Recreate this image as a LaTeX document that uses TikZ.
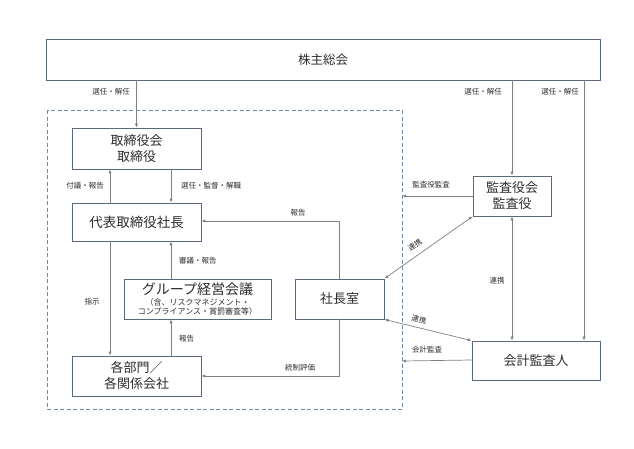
\documentclass[tikz,border=0pt]{standalone}
\usepackage{fontspec}
\setmainfont{Noto Sans CJK JP}
\usetikzlibrary{arrows.meta,calc}
\definecolor{boxc}{RGB}{92,104,128}
\definecolor{dashc}{RGB}{112,136,170}
\definecolor{linec}{RGB}{128,128,128}
\definecolor{txtc}{RGB}{45,45,45}
\tikzset{
  box/.style={draw=boxc,line width=0.8pt,fill=white,inner sep=0pt,align=center,text=txtc,
              font=\fontsize{13}{16}\selectfont},
  arr/.style={draw=linec,line width=0.7pt,-{Latex[length=4pt,width=3.2pt]}},
  darr/.style={draw=linec,line width=0.7pt,{Latex[length=4pt,width=3.2pt]}-{Latex[length=4pt,width=3.2pt]}},
  lbl/.style={inner sep=1pt,text=txtc,font=\fontsize{7.5}{9}\selectfont}
}
\begin{document}
\begin{tikzpicture}[x=1pt,y=-1pt]
\useasboundingbox (0,0) rectangle (634,448);
\fill[white] (0,0) rectangle (634,448);

% dashed company frame
\draw[dashc,line width=0.8pt,dash pattern=on 4pt off 2.5pt] (47,110) rectangle (402,409);
\coordinate (fr1) at (402,196);
\coordinate (fr2) at (402,361);

% nodes
\node[box,minimum width=554pt,minimum height=41pt,font=\fontsize{12.5}{15}\selectfont] (sh) at (323,59.5) {株主総会};
\node[box,minimum width=129pt,minimum height=41pt] (tb) at (136.5,148.5) {取締役会\\取締役};
\node[box,minimum width=129pt,minimum height=38pt,font=\fontsize{13.5}{16}\selectfont] (pres) at (136.5,222) {代表取締役社長};
\node[box,minimum width=147pt,minimum height=40pt,font=\fontsize{8}{9}\selectfont] (grp) at (197.5,299)
  {{\fontsize{14}{9}\selectfont グループ経営会議}\\[2pt]（含、リスクマネジメント・\\コンプライアンス・賞罰審査等）};
\node[box,minimum width=89pt,minimum height=40pt] (sc) at (339.5,299) {社長室};
\node[box,minimum width=129pt,minimum height=40pt] (bu) at (136.5,376) {各部門／\\各関係会社};
\node[box,minimum width=78pt,minimum height=40pt] (ka) at (512,196) {監査役会\\監査役};
\node[box,minimum width=128pt,minimum height=39pt] (kk) at (536,360.5) {会計監査人};

% from shareholders
\draw[arr] (sh.south -| tb.north) -- (tb.north);
\node[lbl,anchor=east] at (131,92) {選任・解任};
\draw[arr] (sh.south -| ka.north) -- (ka.north);
\node[lbl,anchor=east] at (503,92) {選任・解任};
\draw[arr] ($(sh.south -| kk.north)+(48,0)$) -- ($(kk.north)+(48,0)$);
\node[lbl,anchor=east] at (580,92) {選任・解任};

% board <-> president
\draw[arr] ([xshift=-26.5pt]pres.north) -- ([xshift=-26.5pt]tb.south);
\node[lbl,anchor=east] at (105,186) {付議・報告};
\draw[arr] ([xshift=34.5pt]tb.south) -- ([xshift=34.5pt]pres.north);
\node[lbl,anchor=west] at (180,186) {選任・監督・解職};

% 社長室 -> president
\draw[arr] (sc.north) |- ([yshift=1pt]pres.east);
\node[lbl] at (298,213) {報告};

% group meeting
\draw[arr] (grp.north -| 171,0) -- ([xshift=34.5pt]pres.south);
\node[lbl,anchor=west] at (178,261) {審議・報告};
\draw[arr] ([xshift=34.5pt]bu.north) -- (grp.south -| 171,0);
\node[lbl,anchor=west] at (178,339) {報告};

% instruction
\draw[arr] ([xshift=-26.5pt]pres.south) -- ([xshift=-26.5pt]bu.north);
\node[lbl] at (92,302) {指示};

% control evaluation
\draw[arr] (sc.south) |- (bu.east);
\node[lbl] at (300,368) {統制評価};

% auditors
\draw[arr] (ka.west) -- (fr1);
\node[lbl] at (431,185) {監査役監査};
\draw[arr] ([yshift=0.5pt]kk.west) -- (fr2);
\node[lbl] at (427,350) {会計監査};

\draw[darr] (ka.south west) -- (sc.north east);
\node[lbl,rotate=35,inner sep=0pt] at (415,245) {連携};
\draw[darr] (kk.north west) -- (sc.south east);
\node[lbl,rotate=-14] at (419,320) {連携};
\draw[darr] (ka.south) -- (kk.north -| ka.south);
\node[lbl] at (497,281) {連携};
\end{tikzpicture}
\end{document}
